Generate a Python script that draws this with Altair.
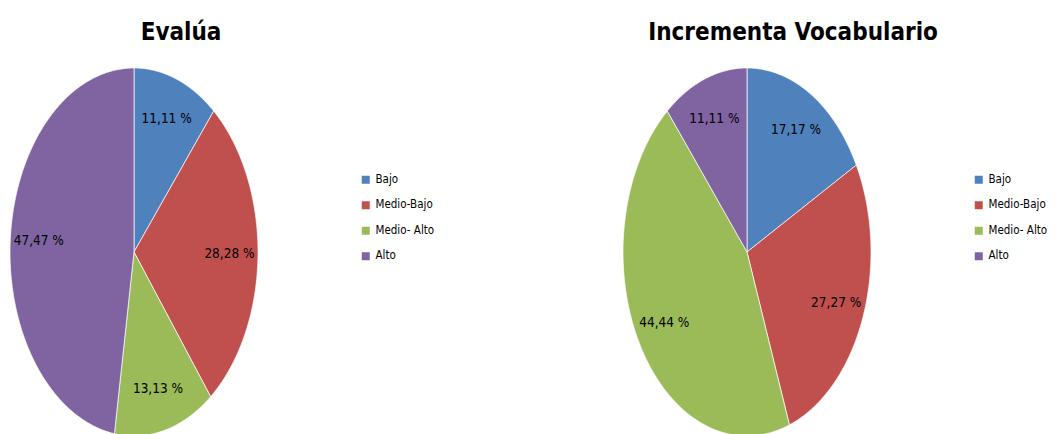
import altair as alt
import pandas as pd

categories = ["Bajo", "Medio-Bajo", "Medio- Alto", "Alto"]
colors = ["#4F81BD", "#C0504D", "#9BBB59", "#8064A2"]
evalua_values = [11.11, 28.28, 13.13, 47.47]
vocab_values = [17.17, 27.27, 44.44, 11.11]
titles = ["Evalúa", "Incrementa Vocabulario"]

FONT = "DejaVu Sans Condensed, Liberation Sans Narrow, sans-serif"
N = 120


def panel(title, values, dx):
    df = pd.DataFrame({"cat": categories, "value": values,
                       "idx": list(range(len(categories)))})
    base = alt.Chart(df).transform_window(
        cum="sum(value)", sort=[alt.SortField("idx")], frame=[None, 0]
    ).transform_joinaggregate(total="sum(value)").transform_calculate(
        a0="2*PI*(datum.cum - datum.value)/datum.total",
        a1="2*PI*datum.cum/datum.total",
    )
    xs = alt.Scale(domain=[-1, 1], nice=False, zero=False)
    ys = alt.Scale(domain=[-1, 1], nice=False, zero=False)
    color = alt.Color(
        "cat:N",
        scale=alt.Scale(domain=categories, range=colors),
        sort=categories,
        legend=alt.Legend(
            title=None, orient="none", legendX=350, legendY=106,
            symbolType="square", symbolSize=64, symbolStrokeWidth=0,
            labelFont=FONT, labelFontSize=11.5, labelColor="black",
            rowPadding=12.5, labelOffset=4, padding=0,
        ),
    )
    slices = base.transform_calculate(
        k=f"sequence(-1, {N + 2})"
    ).transform_flatten(["k"]).transform_calculate(
        ang=f"datum.a0 + (datum.a1 - datum.a0) * clamp(datum.k, 0, {N}) / {N}",
        rr=f"(datum.k < 0 || datum.k > {N}) ? 0 : 1",
    ).transform_calculate(
        px="datum.rr * sin(datum.ang)",
        py="datum.rr * cos(datum.ang)",
    ).mark_line(filled=True, stroke="white", strokeWidth=0.7).encode(
        x=alt.X("px:Q", scale=xs, axis=None),
        y=alt.Y("py:Q", scale=ys, axis=None),
        color=color,
        order=alt.Order("k:Q"),
        detail="cat:N",
    )
    labels = base.transform_calculate(
        mid="(datum.a0 + datum.a1)/2",
    ).transform_calculate(
        lx="0.77*sin(datum.mid)",
        ly="0.77*cos(datum.mid)",
        lab="replace(format(datum.value, '.2f'), '.', ',') + ' %'",
    ).mark_text(font=FONT, fontSize=13.5, color="black").encode(
        x=alt.X("lx:Q", scale=xs, axis=None),
        y=alt.Y("ly:Q", scale=ys, axis=None),
        text="lab:N",
    )
    return alt.layer(slices, labels).properties(
        width=248, height=368,
        title=alt.TitleParams(
            text=title, font=FONT, fontSize=24, fontWeight="bold",
            color="black", anchor="middle", frame="group", dx=dx,
            offset=3, baseline="alphabetic",
        ),
    )


p1 = panel(titles[0], evalua_values, 47)
p2 = panel(titles[1], vocab_values, 46)

chart = alt.hconcat(p1, p2, spacing=186).resolve_scale(
    color="independent"
).properties(
    padding={"left": 0, "top": 12, "right": 0, "bottom": 0},
    background="white",
).configure_view(stroke=None)

chart.save("out.html", embed_options={"renderer": "svg", "actions": False})
